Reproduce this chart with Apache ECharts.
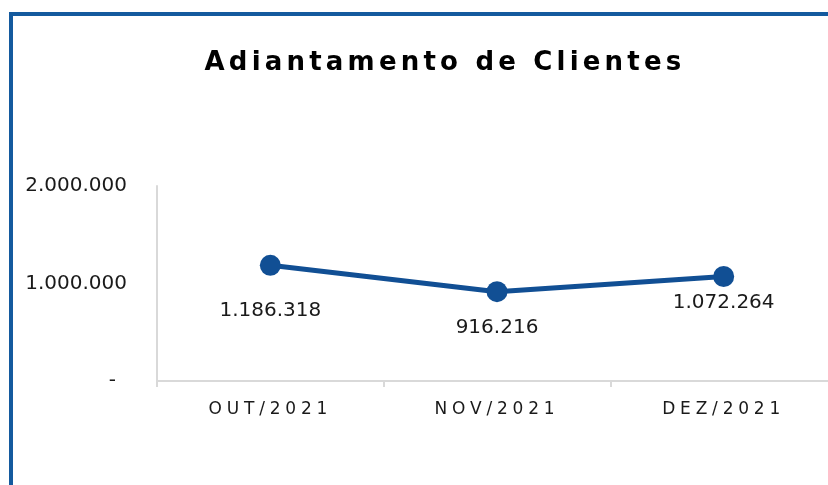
<!DOCTYPE html>
<html>
<head>
<meta charset="utf-8">
<script src="https://cdn.jsdelivr.net/npm/echarts@6/dist/echarts.min.js"></script>
<style>
  html, body { margin: 0; padding: 0; background: #fff; }
  #chart { width: 828px; height: 485px; }
</style>
</head>
<body>
<div id="chart"></div>
<script>
const categories = ['OUT/2021', 'NOV/2021', 'DEZ/2021']
const values = [1186318, 916216, 1072264]
const yMin = 0
const yMax = 2000000
const yStep = 1000000

// distancia do rotulo ao ponto (como no Excel, cada um ajustado a mao)
const labelGap = [25, 16, 6]

const blue = '#114f94'
const font = 'DejaVu Sans'

function fmt(n) {
  if (n === 0) return '{dash|-}'
  return String(n).replace(/\B(?=(\d{3})+(?!\d))/g, '.')
}

const chart = echarts.init(document.getElementById('chart'))

chart.setOption({
  animation: false,
  backgroundColor: '#fff',
  title: {
    text: 'Adiantamento de Clientes',
    left: 445,
    top: 50,
    padding: 0,
    textAlign: 'center',
    zlevel: 1,
    textStyle: {
      fontFamily: font,
      fontWeight: 'bold',
      fontSize: 26,
      color: '#000'
    }
  },
  graphic: [
    { type: 'rect', shape: { x: 9, y: 12, width: 4, height: 480 }, style: { fill: '#145a9e' } },
    { type: 'rect', shape: { x: 9, y: 12, width: 830, height: 4 }, style: { fill: '#145a9e' } }
  ],
  grid: {
    left: 157,
    width: 680,
    top: 186,
    bottom: 104,
    outerBoundsMode: 'none'
  },
  xAxis: {
    type: 'category',
    data: categories,
    zlevel: 2,
    axisLine: { lineStyle: { color: '#d9d9d9', width: 2 } },
    axisTick: { show: true, length: 6, lineStyle: { color: '#d9d9d9', width: 2 } },
    axisLabel: {
      margin: 20,
      fontFamily: font,
      fontSize: 17,
      color: '#1a1a1a'
    }
  },
  yAxis: {
    type: 'value',
    min: yMin,
    max: yMax,
    interval: yStep,
    splitLine: { show: false },
    axisTick: { show: false },
    axisLine: { show: true, lineStyle: { color: '#d9d9d9', width: 2 } },
    axisLabel: {
      margin: 30,
      fontFamily: font,
      fontSize: 20,
      color: '#1a1a1a',
      formatter: fmt,
      rich: {
        dash: { fontFamily: font, fontSize: 20, color: '#1a1a1a', padding: [0, 11, 0, 0] }
      }
    }
  },
  series: [
    {
      type: 'line',
      data: values.map((v, i) => ({
        value: v,
        label: { distance: labelGap[i] }
      })),
      symbol: 'circle',
      symbolSize: 21,
      itemStyle: { color: blue },
      lineStyle: { color: blue, width: 5 },
      label: {
        show: true,
        position: 'bottom',
        fontFamily: font,
        fontSize: 20,
        color: '#1a1a1a',
        formatter: p => fmt(p.value)
      }
    }
  ]
})

// espacamento entre letras do titulo e do eixo X
const painter = chart.getZr().painter
const spacing = { 1: '4.2px', 2: '4.8px' }
Object.keys(spacing).forEach(z => {
  const layer = painter.getLayer && painter.getLayer(+z)
  if (layer && layer.ctx && 'letterSpacing' in layer.ctx) {
    layer.ctx.letterSpacing = spacing[z]
  }
})
painter.refresh && painter.refresh(true)
</script>
</body>
</html>
